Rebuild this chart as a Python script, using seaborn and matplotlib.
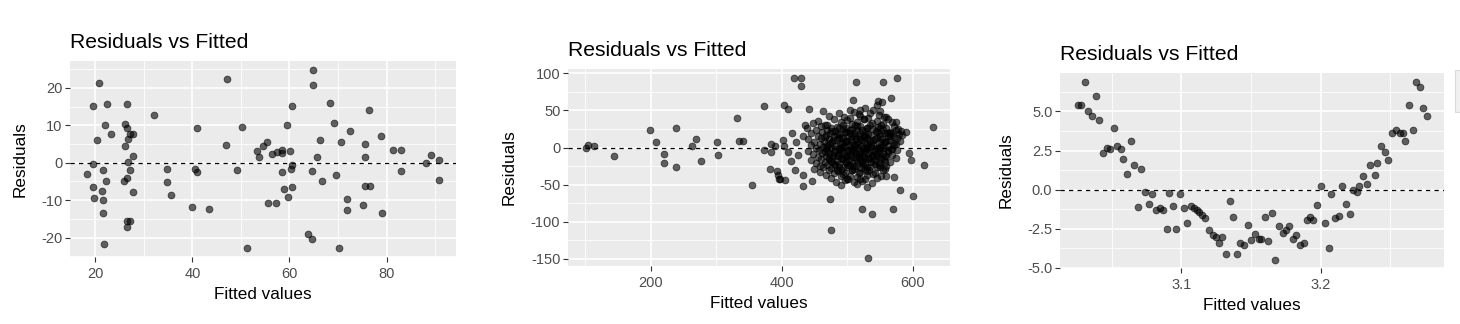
import numpy as np
import pandas as pd
import matplotlib
matplotlib.use("Agg")
import matplotlib.pyplot as plt
import seaborn as sns
from matplotlib.ticker import MultipleLocator, FormatStrFormatter
from matplotlib.patches import Rectangle

# ---------------- data ----------------
fitted1 = [20.7, 19.5, 22.5, 26.6, 22.1, 26.2, 26.6, 23.2, 27.2, 27.8,
           20.4, 26.8, 26.2, 27.8, 26.8, 19.5, 18.4, 21.6, 27.1, 26.6,
           26.0, 22.3, 19.5, 21.3, 27.8, 19.7, 21.6, 21.6, 26.6, 27.1,
           26.6, 21.9, 32.2, 34.7, 34.7, 35.7, 41.0, 40.5, 41.0, 40.0,
           43.5, 47.2, 46.9, 49.1, 50.2, 51.3, 53.3, 53.8, 54.6, 55.3,
           55.6, 57.3, 56.4, 57.5, 58.4, 58.4, 58.4, 58.8, 59.4, 59.6,
           60.1, 60.6, 60.6, 60.4, 60.6, 63.8, 64.7, 64.9, 64.9, 64.7,
           65.7, 66.2, 66.8, 68.3, 69.1, 69.5, 70.1, 70.7, 71.8, 71.8,
           72.5, 75.1, 75.5, 75.5, 75.5, 76.6, 76.3, 78.8, 79.0, 81.4,
           82.9, 82.9, 88.1, 89.1, 90.7, 90.7]
resid1 = [21.2, 15.1, 15.6, 15.6, 10.0, 10.3, 9.2, 7.6, 7.6, 7.6,
          6.0, 6.4, 4.4, 1.9, 0.2, -0.4, -2.9, -2.0, -2.0, -4.2,
          -4.9, -4.9, -6.5, -7.5, -7.8, -9.4, -10.0, -13.5, -15.5, -15.5,
          -17.1, -21.7, 12.7, -1.7, -5.2, -8.6, 9.2, -1.7, -2.6, -11.9,
          -12.4, 22.5, 4.7, -2.0, 9.5, -22.8, 3.1, 1.5, 4.4, 5.5,
          -10.7, -10.7, 2.3, 2.8, 3.4, 2.5, -2.6, -7.0, 10.0, -9.2,
          3.1, 15.1, -0.6, -1.7, -6.5, -19.0, -20.4, 24.7, 20.9, -2.2,
          1.5, 6.0, -4.9, 15.9, 10.6, -3.3, -22.8, 5.5, -9.7, -12.6,
          8.4, -11.3, 5.1, 1.5, -6.2, -6.2, 14.0, 7.1, -13.5, 3.4,
          3.4, -2.2, -0.1, 2.2, 0.7, -4.6]

fitted2_sparse = [100.8, 103.8, 113, 144.5, 198.5, 207.6, 220.9, 220.9, 238.2, 238.2,
                  262.6, 269.7, 276.8, 300.8, 303.3, 332.3, 335.4, 340.5, 354.7, 372.5,
                  372.5, 381.7, 384.2, 384.2, 389.3, 392.9, 393.9, 396.4, 397.9, 402,
                  403, 405.1, 404.1, 410.2, 410.2, 414.8, 416.3, 418.8, 420.9, 422.4,
                  425.4, 430, 430, 433.1, 433.1, 433.1, 435.6, 442.3, 446.8, 463,
                  473.2, 475.8, 508.9, 514, 523.2, 531.8, 538.4, 547.1, 554.7, 566.4,
                  570, 576.6, 580.2, 590.3, 593.9, 598, 600.5, 617.8, 630.5]
resid2_sparse = [0, 4, 2, -11.7, 23.4, 6.8, -8.1, -21.2, 25.7, -26.1,
                 2.7, 11.3, -18, 6.8, -9.9, 39.6, 9, 9, -50.5, 55.4,
                 -2.7, -29.3, 4.5, -6.3, 1.8, -32, -37.8, -41.9, -43.2, 9.9,
                 2.7, -43.7, 57.2, 52.3, -6.3, -18, 19.8, 93.2, -30.6, 6.8,
                 -9.9, 93.2, 82.9, 16.2, -37.4, -52.3, 30.2, 51.8, -45.5, 49.5,
                 -68.9, -110.8, 64, 88.3, -83.3, -148.6, -90.1, 62.6, 88.3, 66.2,
                 -83.3, 93.2, -57.2, 21.2, -7.2, -16.2, -65.8, -23.9, 27.5]

fitted2_core = [545, 553,
                505, 528, 540,
                488, 510, 518, 535,
                472, 495, 520, 532, 548, 556,
                455, 480, 500, 515, 525, 545, 562, 574,
                448, 466, 490, 507, 512, 538, 552, 568,
                438, 460, 476, 485, 498, 520, 530, 547, 560, 572, 578,
                452, 470, 482, 493, 505, 515, 527, 540, 555, 566, 575, 582,
                445, 462, 474, 488, 497, 510, 520, 532, 545, 558, 568, 579,
                456, 468, 480, 491, 502, 512, 518, 525, 537, 550, 562, 572, 584,
                440, 460, 472, 485, 494, 506, 514, 522, 530, 542, 553, 565, 576,
                450, 465, 477, 489, 499, 508, 517, 527, 535, 548, 558, 570, 580,
                445, 458, 470, 482, 492, 503, 512, 521, 531, 540, 551, 563, 574,
                452, 463, 476, 487, 497, 506, 516, 525, 536, 546, 557, 568,
                440, 457, 469, 480, 491, 500, 510, 519, 529, 539, 550, 562, 576,
                448, 462, 473, 486, 495, 504, 514, 523, 533, 544, 555, 568,
                455, 467, 478, 490, 499, 509, 518, 528, 538, 549, 560, 574,
                445, 460, 472, 484, 494, 503, 513, 523, 532, 543, 556,
                452, 466, 477, 488, 498, 508, 517, 527, 537, 550, 565,
                458, 470, 482, 493, 504, 514, 524, 535, 548, 560,
                450, 463, 476, 490, 500, 511, 521, 533, 545, 558,
                458, 472, 486, 497, 508, 520, 531, 542, 555,
                468, 480, 494, 505, 518, 530, 540, 552, 572,
                475, 490, 502, 515, 527, 545, 560,
                483, 496, 510, 523, 538,
                490, 515, 530]
resid2_core = [58, 61,
               51, 54, 50,
               46, 48, 45, 47,
               43, 41, 42, 40, 44, 41,
               36, 38, 37, 35, 39, 36, 38, 35,
               33, 31, 34, 32, 30, 33, 31, 34,
               27, 29, 26, 28, 27, 29, 26, 28, 27, 29, 25,
               23, 24, 22, 25, 23, 24, 22, 25, 23, 21, 24, 22,
               19, 21, 20, 18, 21, 19, 20, 18, 21, 19, 20, 18,
               15, 17, 16, 14, 17, 15, 16, 14, 17, 15, 16, 14, 17,
               11, 13, 12, 10, 13, 11, 12, 10, 13, 11, 12, 10, 13,
               7, 9, 8, 6, 9, 7, 8, 6, 9, 7, 8, 6, 9,
               3, 5, 4, 2, 5, 3, 4, 2, 5, 3, 4, 2, 5,
               -1, 1, 0, -2, 1, -1, 0, -2, 1, -1, 0, -2,
               -5, -3, -4, -6, -3, -5, -4, -6, -3, -5, -4, -6, -3,
               -9, -7, -8, -10, -7, -9, -8, -10, -7, -9, -8, -10,
               -13, -11, -12, -14, -11, -13, -12, -14, -11, -13, -12, -14,
               -17, -15, -16, -18, -15, -17, -16, -18, -15, -17, -16,
               -21, -19, -20, -22, -19, -21, -20, -22, -19, -21, -20,
               -25, -23, -24, -26, -23, -25, -24, -26, -23, -25,
               -29, -27, -28, -30, -27, -29, -28, -30, -27, -29,
               -33, -31, -32, -34, -31, -33, -32, -34, -31,
               -37, -35, -36, -38, -35, -37, -36, -38, -40,
               -41, -39, -42, -40, -43, -41, -39,
               -46, -44, -47, -45, -48,
               -51, -49, -53]

fitted2_inner = [470, 493, 515, 535, 555,
                 477, 499, 522, 544, 561,
                 466, 487, 508, 528, 546, 566,
                 479, 500, 520, 540, 560,
                 471, 492, 511, 532, 552, 571,
                 481, 502, 524, 543, 563,
                 466, 488, 508, 528, 548,
                 477, 498, 518, 538, 558,
                 472, 494, 514, 534, 552,
                 480, 502, 522, 542,
                 485, 507, 527,
                 488, 508, 530, 550,
                 484, 505, 526, 548, 566,
                 474, 496, 515, 536, 556,
                 468, 489, 509, 530, 549, 567,
                 484, 505, 526, 546,
                 476, 498, 519, 540, 558,
                 488, 510, 531, 550,
                 505, 526, 560,
                 520, 550,
                 500, 520]
resid2_inner = [30, 31, 29, 30, 32,
                22, 21, 23, 22, 20,
                14, 13, 15, 14, 13, 15,
                10, 9, 11, 10, 9,
                2, 1, 3, 2, 1, 3,
                -2, -3, -1, -2, -3,
                -6, -7, -5, -6, -7,
                -10, -11, -9, -10, -11,
                -14, -15, -13, -14, -15,
                -22, -23, -21, -22,
                -30, -31, -29,
                26, 25, 27, 26,
                18, 19, 17, 18, 19,
                6, 7, 5, 6, 7,
                -1, 0, -2, -1, 0, -2,
                -12, -11, -13, -12,
                -18, -19, -17, -18, -19,
                -26, -25, -27, -26,
                40, 39, 41,
                50, 49,
                -42, -43]

fitted3 = [3.0255, 3.0282, 3.0310, 3.0332, 3.0360, 3.0389, 3.0411, 3.0439, 3.0463, 3.0489,
           3.0516, 3.0537, 3.0566, 3.0582, 3.0609, 3.0637, 3.0659, 3.0690, 3.0711, 3.0740,
           3.0768, 3.0790, 3.0816, 3.0845, 3.0869, 3.0897, 3.0912, 3.0938, 3.0964, 3.0990,
           3.1019, 3.1041, 3.1069, 3.1093, 3.1112, 3.1129, 3.1148, 3.1172, 3.1196, 3.1224,
           3.1248, 3.1267, 3.1291, 3.1320, 3.1346, 3.1368, 3.1396, 3.1422, 3.1449, 3.1475,
           3.1499, 3.1527, 3.1554, 3.1575, 3.1597, 3.1621, 3.1647, 3.1675, 3.1699, 3.1726,
           3.1749, 3.1776, 3.1804, 3.1826, 3.1854, 3.1881, 3.1905, 3.1926, 3.1947, 3.1976,
           3.2000, 3.2029, 3.2057, 3.2076, 3.2105, 3.2131, 3.2153, 3.2184, 3.2208, 3.2232,
           3.2263, 3.2277, 3.2306, 3.2329, 3.2356, 3.2387, 3.2406, 3.2434, 3.2463, 3.2484,
           3.2513, 3.2537, 3.2566, 3.2589, 3.2606, 3.2637, 3.2659, 3.2687, 3.2716, 3.2735,
           3.2766]
resid3 = [5.42, 5.42, 6.89, 5.03, 4.71, 5.97, 4.43, 2.35, 2.67, 2.60,
          3.94, 2.79, 2.60, 1.96, 1.02, 3.11, 1.58, -1.11, 1.34, -0.15,
          -0.92, -0.28, -1.30, -1.17, -1.30, -2.52, -0.21, -1.04, -2.52, -0.28,
          -1.17, -2.11, -1.04, -1.17, -1.30, -1.43, -1.60, -1.81, -2.58, -2.90,
          -3.03, -3.39, -3.03, -4.12, -0.72, -1.75, -4.12, -3.39, -3.54, -2.26,
          -3.22, -2.84, -3.16, -3.16, -1.75, -3.28, -1.49, -4.50, -2.32, -2.77,
          -2.58, -2.32, -3.16, -2.90, -3.54, -3.41, -1.94, -1.75, -1.94, -0.98,
          0.26, -2.13, -3.73, -0.28, -1.81, -1.68, 0.23, -0.92, -1.56, -0.02,
          -0.15, 0.26, 0.87, 0.36, 1.58, 0.94, 1.71, 2.79, 2.41, 1.90,
          3.62, 3.82, 3.62, 3.62, 3.11, 5.42, 3.82, 6.89, 6.57, 5.22,
          4.71]

title_text = "Residuals vs Fitted"
x_label = "Fitted values"
y_label = "Residuals"

# ---------------- style ----------------
sns.set_theme(style="darkgrid")
plt.rcParams['font.family'] = ['Liberation Sans', 'DejaVu Sans']
plt.rcParams['axes.unicode_minus'] = False

W, H = 1460, 324
fig = plt.figure(figsize=(W / 100, H / 100), dpi=100)
fig.patch.set_facecolor('white')


def px_axes(x0, y0, x1, y1):
    return fig.add_axes([x0 / W, 1 - y1 / H, (x1 - x0) / W, (y1 - y0) / H])


def panel(ax, fx, fy, xlim, ylim, xmaj, xmin, ymaj, ymin, yfmt=None, xfmt=None):
    df = pd.DataFrame({"fitted": fx, "resid": fy})
    ax.set_facecolor('#EBEBEB')
    for s in ax.spines.values():
        s.set_visible(False)
    ax.set_axisbelow(True)
    ax.axhline(0, color='black', linestyle=(0, (3.4, 3.4)), linewidth=0.9, zorder=1.5)
    sns.scatterplot(data=df, x="fitted", y="resid", ax=ax, color='black', alpha=0.6,
                    s=24, edgecolor='black', linewidth=0.6, zorder=3)
    ax.set_xlim(*xlim)
    ax.set_ylim(*ylim)
    ax.xaxis.set_major_locator(MultipleLocator(xmaj))
    ax.xaxis.set_minor_locator(MultipleLocator(xmin))
    ax.yaxis.set_major_locator(MultipleLocator(ymaj))
    ax.yaxis.set_minor_locator(MultipleLocator(ymin))
    if yfmt:
        ax.yaxis.set_major_formatter(FormatStrFormatter(yfmt))
    if xfmt:
        ax.xaxis.set_major_formatter(FormatStrFormatter(xfmt))
    ax.grid(True, which='major', color='white', linewidth=1.2)
    ax.grid(True, which='minor', color='white', linewidth=0.6)
    ax.tick_params(which='major', bottom=True, left=True, length=3.5, width=0.8,
                   color='#333333', labelcolor='#4D4D4D', labelsize=10.5, pad=2)
    ax.tick_params(axis='x', which='major', pad=4)
    ax.tick_params(which='minor', bottom=False, left=False, length=0)
    ax.set_xlabel(x_label, fontsize=12.3, color='black', labelpad=4)
    ax.set_ylabel(y_label, fontsize=12.3, color='black', labelpad=10)
    ax.set_title(title_text, loc='left', fontsize=15.2, color='black', pad=9)


ax1 = px_axes(70, 61, 456, 257)
panel(ax1, fitted1, resid1, (14.8, 94.3), (-25.2, 27.2), 20, 10, 10, 5)

ax2 = px_axes(568, 69, 950, 266)
panel(ax2, fitted2_sparse + fitted2_core + fitted2_inner,
      resid2_sparse + resid2_core + resid2_inner,
      (74.0, 657.0), (-160.0, 106.0), 200, 100, 50, 25)

ax3 = px_axes(1060, 73, 1444, 268)
panel(ax3, fitted3, resid3, (3.0129, 3.2885), (-5.005, 7.46), 0.1, 0.05, 2.5, 1.25,
      yfmt='%.1f', xfmt='%.1f')

# small grey UI tab at the right edge
fig.patches.append(Rectangle((1455 / W, 1 - 112 / H), 8 / W, 42 / H,
                             transform=fig.transFigure, facecolor='#F1F1F1',
                             edgecolor='#DADADA', linewidth=0.8))

fig.savefig("out.png", dpi=100)
